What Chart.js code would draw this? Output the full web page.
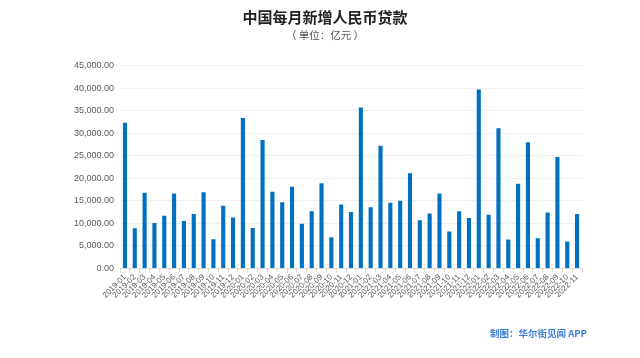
<!DOCTYPE html>
<html>
<head>
<meta charset="utf-8">
<script src="https://cdn.jsdelivr.net/npm/chart.js@4/dist/chart.umd.min.js"></script>
<style>
  html, body { margin: 0; padding: 0; background: #ffffff; }
  #wrap { position: relative; width: 640px; height: 358px; }
  #credit { position: absolute; left: 490px; top: 326px; font: bold 9.5px "Noto Sans CJK SC", sans-serif; color: #3b7fd8; white-space: nowrap; }
</style>
</head>
<body>
<div id="wrap">
  <canvas id="c" width="640" height="358"></canvas>
  <div id="credit">制图：华尔街见闻 APP</div>
</div>
<script>
const months = [
  "2019-01","2019-02","2019-03","2019-04","2019-05","2019-06","2019-07","2019-08","2019-09","2019-10","2019-11","2019-12",
  "2020-01","2020-02","2020-03","2020-04","2020-05","2020-06","2020-07","2020-08","2020-09","2020-10","2020-11","2020-12",
  "2021-01","2021-02","2021-03","2021-04","2021-05","2021-06","2021-07","2021-08","2021-09","2021-10","2021-11","2021-12",
  "2022-01","2022-02","2022-03","2022-04","2022-05","2022-06","2022-07","2022-08","2022-09","2022-10","2022-11"
];
const newLoans = [
  32300, 8900, 16800, 10100, 11700, 16600, 10500, 12100, 16900, 6500, 13900, 11300,
  33400, 9000, 28500, 17000, 14700, 18100, 9900, 12700, 18900, 6900, 14200, 12500,
  35700, 13600, 27200, 14600, 15000, 21100, 10700, 12200, 16600, 8200, 12700, 11200,
  39700, 11900, 31100, 6400, 18800, 28000, 6700, 12400, 24700, 6000, 12100
];
const yTicks = { min: 0, max: 45000, step: 5000 };
const titleText = "中国每月新增人民币贷款";
const subtitleText = "（ 单位：亿元 ）";

new Chart(document.getElementById("c"), {
  type: "bar",
  data: {
    labels: months,
    datasets: [{
      label: "新增人民币贷款",
      data: newLoans,
      backgroundColor: "#0070c0",
      barPercentage: 0.42,
      categoryPercentage: 1.0
    }]
  },
  options: {
    responsive: false,
    animation: false,
    devicePixelRatio: 1,
    layout: { padding: { left: 68, right: 58, top: 6, bottom: 58 } },
    plugins: {
      legend: { display: false },
      tooltip: { enabled: false },
      title: {
        display: true, text: titleText, color: "#222222",
        font: { family: "Noto Sans CJK SC", size: 15, weight: "bold" },
        padding: { top: 2, bottom: 0 }
      },
      subtitle: {
        display: true, text: subtitleText, color: "#555555",
        font: { family: "Noto Sans CJK SC", size: 10.5 },
        padding: { top: 3, bottom: 24 }
      }
    },
    scales: {
      x: {
        offset: true,
        grid: { display: true, drawOnChartArea: false, drawTicks: true, tickLength: 4, color: "#d9d9d9", offset: true },
        border: { display: true, color: "#d9d9d9" },
        ticks: {
          autoSkip: false, maxRotation: 45, minRotation: 45, color: "#595959", padding: 0,
          font: { family: "Liberation Sans", size: 8 }
        }
      },
      y: {
        min: yTicks.min, max: yTicks.max,
        grid: { color: "#f0f0f0", drawTicks: false },
        border: { display: false },
        ticks: {
          stepSize: yTicks.step, color: "#595959", padding: 6,
          font: { family: "Liberation Sans", size: 9 },
          callback: v => v.toLocaleString("en-US", { minimumFractionDigits: 2, maximumFractionDigits: 2 })
        }
      }
    }
  }
});
</script>
</body>
</html>
